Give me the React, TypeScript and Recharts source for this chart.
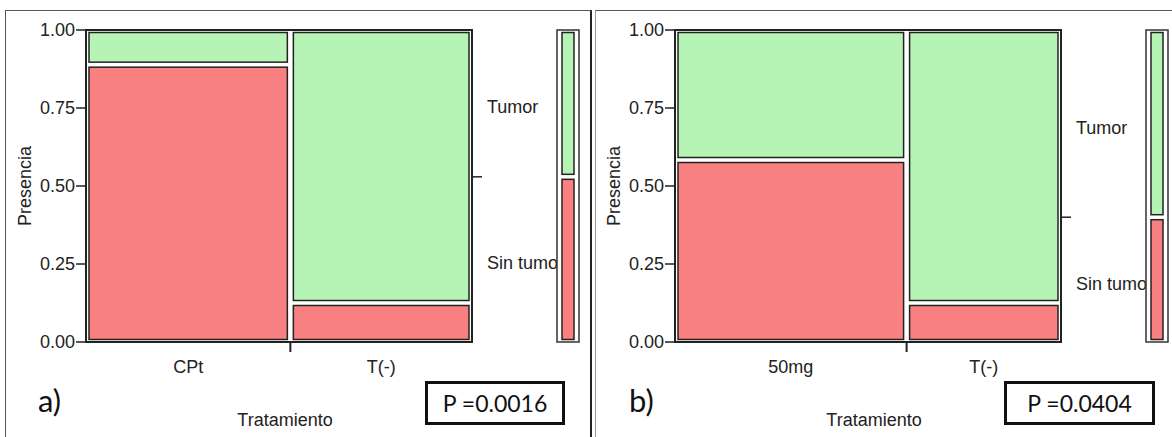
import React from 'react';
import { ComposedChart, XAxis, YAxis, ReferenceArea, Label } from 'recharts';

const groupsA = ['CPt', 'T(-)'];
const sinTumorA = [8, 1];
const tumorA = [1, 7];

const groupsB = ['50mg', 'T(-)'];
const sinTumorB = [7, 1];
const tumorB = [5, 7];

const outcomeLabels = ['Tumor', 'Sin tumo'];
const yTicks = [0, 0.25, 0.5, 0.75, 1];
const panelTags = ['a)', 'b)'];
const pValues = ['P =0.0016', 'P =0.0404'];

const GREEN = '#b6f4b6';
const RED = '#f98080';
const INK = '#222';
const FONT = '"Liberation Sans", Arial, sans-serif';
const TAG_FONT = 'Lato, "Open Sans", sans-serif';

const sum = (a: number[]) => a.reduce((s, v) => s + v, 0);

function buildColumns(groups: string[], sin: number[], tum: number[]) {
  const total = sum(sin) + sum(tum);
  let x0 = 0;
  return groups.map((name, i) => {
    const n = sin[i] + tum[i];
    const x1 = x0 + n / total;
    const col = { name, x0, x1, center: (x0 + x1) / 2, split: sin[i] / n };
    x0 = x1;
    return col;
  });
}

const insetRect = (dx: number, dy: number, fill: string) => (p: any) => (
  <rect
    x={p.x + dx}
    y={p.y + dy}
    width={Math.max(0, p.width - 2 * dx)}
    height={Math.max(0, p.height - 2 * dy)}
    fill={fill}
    stroke={INK}
    strokeWidth={1.5}
  />
);

type PanelProps = {
  idx: number;
  left: number;
  groups: string[];
  sin: number[];
  tum: number[];
  legendLeft: number;
  tagLeft: number;
  boxLeft: number;
  boxWidth: number;
};

function MosaicPanel({ idx, left, groups, sin, tum, legendLeft, tagLeft, boxLeft, boxWidth }: PanelProps) {
  const cols = buildColumns(groups, sin, tum);
  const total = sum(sin) + sum(tum);
  const marg = sum(sin) / total;
  const boundary = cols[0].x1;
  const xTicks = [cols[0].center, boundary, cols[1].center];
  const rightTicks = [(1 + marg) / 2, marg, marg / 2];

  const renderXTick = (p: any) => {
    const v = p.payload.value;
    if (Math.abs(v - boundary) < 1e-9) {
      return <line x1={p.x} x2={p.x} y1={p.y} y2={p.y + 10} stroke={INK} strokeWidth={2} />;
    }
    const col = cols.find((c) => Math.abs(c.center - v) < 1e-9);
    return (
      <text x={p.x} y={p.y + 31} textAnchor="middle" fill={INK} fontSize={18} fontFamily={FONT}>
        {col ? col.name : ''}
      </text>
    );
  };

  const renderRightTick = (p: any) => {
    const v = p.payload.value;
    if (Math.abs(v - marg) < 1e-9) {
      return <line x1={p.x} x2={p.x + 10} y1={p.y} y2={p.y} stroke={INK} strokeWidth={1.5} />;
    }
    const label = v > marg ? outcomeLabels[0] : outcomeLabels[1];
    return (
      <text x={p.x + 15} y={p.y + 10} textAnchor="start" fill={INK} fontSize={18} fontFamily={FONT}>
        {label}
      </text>
    );
  };

  return (
    <>
      <div style={{ position: 'absolute', left, top: 0 }}>
        <ComposedChart width={562} height={432} data={cols} margin={{ top: 30, right: 0, bottom: 0, left: 0 }}>
          <XAxis
            type="number"
            dataKey="center"
            domain={[0, 1]}
            allowDataOverflow
            ticks={xTicks}
            interval={0}
            tickLine={false}
            tickSize={0}
            tickMargin={0}
            tick={renderXTick}
            axisLine={{ stroke: INK, strokeWidth: 2 }}
            height={90}
          >
            <Label
              content={(props: any) => {
                const vb = props.viewBox;
                return (
                  <text x={vb.x + vb.width / 2 + 6} y={vb.y + 84} textAnchor="middle" fill={INK} fontSize={18} fontFamily={FONT}>
                    Tratamiento
                  </text>
                );
              }}
            />
          </XAxis>
          <YAxis
            type="number"
            dataKey="split"
            domain={[0, 1]}
            allowDataOverflow
            ticks={yTicks}
            interval={0}
            tickFormatter={(v: number) => v.toFixed(2)}
            tickSize={10}
            tickMargin={1}
            tickLine={{ stroke: INK, strokeWidth: 1.5 }}
            axisLine={{ stroke: INK, strokeWidth: 2 }}
            tick={{ fill: INK, fontSize: 18, fontFamily: FONT }}
            width={86}
          >
            <Label
              content={(props: any) => {
                const vb = props.viewBox;
                const cx = vb.x + 26;
                const cy = vb.y + vb.height / 2;
                return (
                  <text x={cx} y={cy} transform={`rotate(-90 ${cx} ${cy})`} textAnchor="middle" dominantBaseline="middle" fill={INK} fontSize={18} fontFamily={FONT}>
                    Presencia
                  </text>
                );
              }}
            />
          </YAxis>
          <YAxis
            yAxisId="right"
            orientation="right"
            type="number"
            dataKey="split"
            domain={[0, 1]}
            allowDataOverflow
            ticks={rightTicks}
            interval={0}
            tickLine={false}
            tickSize={0}
            tickMargin={0}
            axisLine={false}
            tick={renderRightTick}
            width={90}
          />
          <ReferenceArea x1={0} x2={1} y1={0} y2={1} fill="#fff" fillOpacity={1} stroke={INK} strokeWidth={2} />
          {cols.map((c) => (
            <ReferenceArea key={c.name + '-s'} x1={c.x0} x2={c.x1} y1={0} y2={c.split} shape={insetRect(3, 2.5, RED)} />
          ))}
          {cols.map((c) => (
            <ReferenceArea key={c.name + '-t'} x1={c.x0} x2={c.x1} y1={c.split} y2={1} shape={insetRect(3, 2.5, GREEN)} />
          ))}
        </ComposedChart>
      </div>

      <div style={{ position: 'absolute', left: legendLeft - 2, top: 0 }}>
        <ComposedChart width={26} height={372} data={cols} margin={{ top: 30, right: 2, bottom: 30, left: 2 }}>
          <XAxis type="number" dataKey="center" domain={[0, 1]} allowDataOverflow hide />
          <YAxis type="number" dataKey="split" domain={[0, 1]} allowDataOverflow hide />
          <ReferenceArea x1={0} x2={1} y1={0} y2={1} fill="#fff" fillOpacity={1} stroke="#333" strokeWidth={1.5} />
          <ReferenceArea x1={0} x2={1} y1={0} y2={marg} shape={insetRect(5, 2.5, RED)} />
          <ReferenceArea x1={0} x2={1} y1={marg} y2={1} shape={insetRect(5, 2.5, GREEN)} />
        </ComposedChart>
      </div>

      <div
        style={{
          position: 'absolute',
          left: tagLeft,
          top: 385,
          fontFamily: TAG_FONT,
          fontSize: 31,
          lineHeight: '31px',
          color: '#111',
        }}
      >
        {panelTags[idx]}
      </div>

      <div
        style={{
          position: 'absolute',
          left: boxLeft,
          top: 381,
          width: boxWidth,
          height: 44,
          boxSizing: 'border-box',
          border: '3px solid #111',
          background: '#fff',
          display: 'flex',
          alignItems: 'center',
          justifyContent: 'center',
          fontFamily: TAG_FONT,
          fontSize: 23,
          color: '#111',
        }}
      >
        {pValues[idx]}
      </div>
    </>
  );
}

export default function App() {
  return (
    <div style={{ position: 'absolute', left: 0, top: 0, width: 1172, height: 437, overflow: 'hidden', background: '#fff' }}>
      <div style={{ position: 'absolute', left: 5, top: 10, width: 584, height: 440, borderLeft: '1px solid #555', borderTop: '1px solid #555', borderRight: '2px solid #222' }} />
      <div style={{ position: 'absolute', left: 595, top: 10, width: 600, height: 440, borderLeft: '1.5px solid #999', borderTop: '1px solid #555' }} />
      <MosaicPanel idx={0} left={0} groups={groupsA} sin={sinTumorA} tum={tumorA} legendLeft={557} tagLeft={38} boxLeft={425} boxWidth={140} />
      <MosaicPanel idx={1} left={589} groups={groupsB} sin={sinTumorB} tum={tumorB} legendLeft={1146} tagLeft={629} boxLeft={1004} boxWidth={151} />
    </div>
  );
}
